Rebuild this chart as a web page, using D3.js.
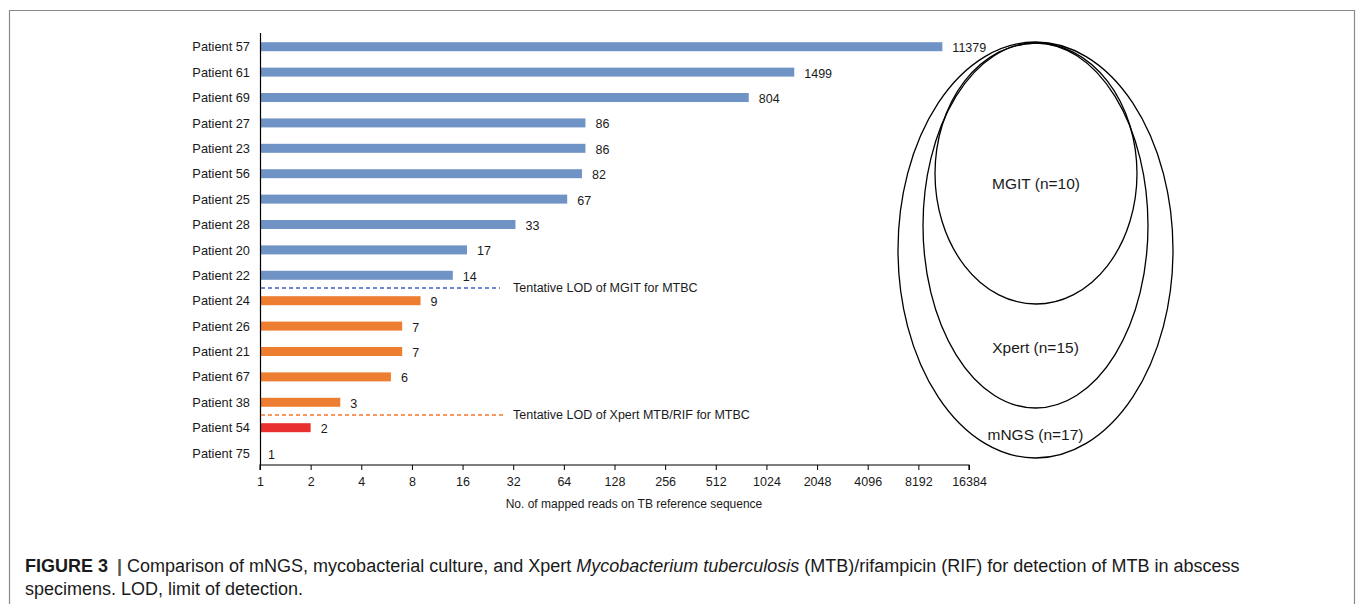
<!DOCTYPE html>
<html>
<head>
<meta charset="utf-8">
<script src="https://cdn.jsdelivr.net/npm/d3@7"></script>
<style>
  html, body { margin: 0; padding: 0; background: #fff; }
  svg { display: block; }
  text { font-family: "Liberation Sans", Arial, sans-serif; fill: #1a1a1a; }
</style>
</head>
<body>
<svg id="chart" width="1357" height="604"></svg>
<script>
// Patients ordered by mapped read count
const patients = ["Patient 57","Patient 61","Patient 69","Patient 27","Patient 23","Patient 56",
  "Patient 25","Patient 28","Patient 20","Patient 22","Patient 24","Patient 26","Patient 21",
  "Patient 67","Patient 38","Patient 54","Patient 75"];
const reads = [11379, 1499, 804, 86, 86, 82, 67, 33, 17, 14, 9, 7, 7, 6, 3, 2, 1];
// detection group: MGIT-positive, Xpert-positive only, mNGS only
const groups = ["mgit","mgit","mgit","mgit","mgit","mgit","mgit","mgit","mgit","mgit",
  "xpert","xpert","xpert","xpert","xpert","mngs","mngs"];
const tickValues = [1,2,4,8,16,32,64,128,256,512,1024,2048,4096,8192,16384];
// limit-of-detection lines sit below the given patient row
const lodLines = [
  { after: "Patient 22", label: "Tentative LOD of MGIT for MTBC", color: "#3f5fcf", end: 500 },
  { after: "Patient 38", label: "Tentative LOD of Xpert MTB/RIF for MTBC", color: "#f7772a", end: 505 }
];
const vennSets = [
  { name: "mNGS", n: 17 },
  { name: "Xpert", n: 15 },
  { name: "MGIT", n: 10 }
];

const colors = { mgit: "#7093c6", xpert: "#ed7d31", mngs: "#e8312f" };

const svg = d3.select("#chart");

// figure frame
svg.append("path")
  .attr("d", "M9.5,620 V10.5 H1354.5 V620")
  .attr("fill", "none").attr("stroke", "#8a8a8a").attr("stroke-width", 1.2);

const x0 = 260, x1 = 969, yTop = 33, yAxis = 465;
const x = d3.scaleLog().base(2).domain([1, 16384]).range([x0, x1]);
const y = d3.scaleBand().domain(patients).range([35.8, 464]).paddingInner(0.64).paddingOuter(0.25);
const cy = (d) => y(d) + y.bandwidth() / 2;

const g = svg.append("g");

// bars
g.selectAll("rect.bar").data(patients).join("rect")
  .attr("class", "bar")
  .attr("x", x0 + 1)
  .attr("y", (d) => cy(d) - 4.5)
  .attr("width", (d, i) => Math.max(0, x(reads[i]) - x0 - 1))
  .attr("height", 9)
  .attr("fill", (d, i) => colors[groups[i]]);

// value labels
g.selectAll("text.val").data(patients).join("text")
  .attr("class", "val")
  .attr("x", (d, i) => x(reads[i]) + (reads[i] === 1 ? 8 : 10))
  .attr("y", (d) => cy(d) + 1)
  .attr("dy", "0.36em")
  .attr("font-size", 12.5)
  .text((d, i) => reads[i]);

// category labels
g.selectAll("text.cat").data(patients).join("text")
  .attr("class", "cat")
  .attr("x", x0 - 10)
  .attr("y", (d) => cy(d))
  .attr("dy", "0.36em")
  .attr("text-anchor", "end")
  .attr("font-size", 12.8)
  .text((d) => d);

// y axis line
g.append("line").attr("x1", x0 + 0.5).attr("x2", x0 + 0.5).attr("y1", yTop).attr("y2", yAxis)
  .attr("stroke", "#000").attr("stroke-width", 1.2);

// x axis
const xAxis = d3.axisBottom(x).tickValues(tickValues).tickSize(5).tickPadding(7)
  .tickFormat(d3.format("d"));
const ax = g.append("g").attr("transform", `translate(0,${yAxis})`).call(xAxis);
ax.select(".domain").attr("stroke", "#000").attr("stroke-width", 1.2)
  .attr("d", `M${x0},5V0H${x1}V5`);
ax.selectAll(".tick line").attr("stroke", "#000");
ax.selectAll(".tick text").attr("font-size", 12.5).attr("fill", "#1a1a1a")
  .attr("font-family", '"Liberation Sans", Arial, sans-serif');

g.append("text")
  .attr("x", 634).attr("y", 508)
  .attr("text-anchor", "middle").attr("font-size", 12)
  .text("No. of mapped reads on TB reference sequence");

// LOD lines
lodLines.forEach((l) => {
  const ly = Math.round(cy(l.after) + y.step() / 2);
  g.append("line")
    .attr("x1", x0 + 1).attr("x2", l.end).attr("y1", ly).attr("y2", ly)
    .attr("stroke", l.color).attr("stroke-width", 1.4).attr("stroke-dasharray", "4,3");
  g.append("text").attr("x", 513).attr("y", ly).attr("dy", "0.3em")
    .attr("font-size", 12.5).text(l.label);
});

// nested Venn ellipses
const venn = [
  { cx: 1035.5, cy: 250, rx: 137.5, ry: 208, ly: 434 },
  { cx: 1035.5, cy: 225.5, rx: 112.5, ry: 182.5, ly: 347 },
  { cx: 1036, cy: 173.5, rx: 101, ry: 130.5, ly: 183 }
];
const vg = svg.append("g");
vg.selectAll("ellipse").data(vennSets).join("ellipse")
  .attr("cx", (d, i) => venn[i].cx).attr("cy", (d, i) => venn[i].cy)
  .attr("rx", (d, i) => venn[i].rx).attr("ry", (d, i) => venn[i].ry)
  .attr("fill", "none").attr("stroke", "#000").attr("stroke-width", 1.3);
vg.selectAll("text").data(vennSets).join("text")
  .attr("x", (d, i) => venn[i].cx).attr("y", (d, i) => venn[i].ly)
  .attr("dy", "0.36em").attr("text-anchor", "middle").attr("font-size", 15.5)
  .text((d) => `${d.name} (n=${d.n})`);

// caption
const cap = svg.append("g").attr("font-size", 18);
const t1 = cap.append("text").attr("x", 25).attr("y", 572);
t1.append("tspan").attr("font-weight", "bold").text("FIGURE 3");
t1.append("tspan").attr("fill", "#555").attr("font-weight", "bold").attr("dx", 4).text(" | ");
t1.append("tspan").text("Comparison of mNGS, mycobacterial culture, and Xpert ");
t1.append("tspan").attr("font-style", "italic").text("Mycobacterium tuberculosis");
t1.append("tspan").text(" (MTB)/rifampicin (RIF) for detection of MTB in abscess");
cap.append("text").attr("x", 25).attr("y", 595)
  .text("specimens. LOD, limit of detection.");
</script>
</body>
</html>
